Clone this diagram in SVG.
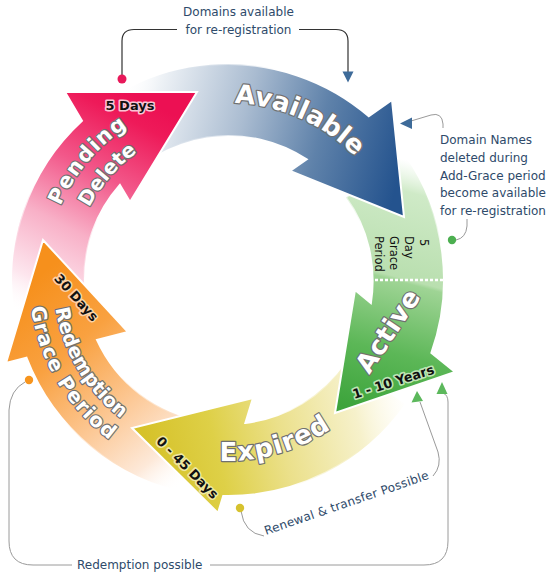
<svg xmlns="http://www.w3.org/2000/svg" xmlns:xlink="http://www.w3.org/1999/xlink" width="560" height="578" viewBox="0 0 560 578">
<style>
.lbl{font-family:"DejaVu Sans",Verdana,sans-serif;font-weight:bold;fill:#fff;stroke:#707070;stroke-width:2.4px;paint-order:stroke fill;stroke-linejoin:round}
.days{font-family:"DejaVu Sans",Verdana,sans-serif;font-weight:bold;font-size:13px;fill:#111;stroke-width:3.2px;paint-order:stroke fill;stroke-linejoin:round}
.note{font-family:"DejaVu Sans",Verdana,sans-serif;font-size:12px;fill:#2e4a6a}
.grace{font-family:"DejaVu Sans",Verdana,sans-serif;font-size:11.5px;fill:#111}
.ln{fill:none;stroke:#9a9a9a;stroke-width:1}
.lnd{fill:none;stroke:#333;stroke-width:1.2}
.arw{stroke-width:2;stroke-linejoin:miter}
</style>
<defs>
<linearGradient id="gPend" gradientUnits="userSpaceOnUse" x1="22" y1="315" x2="135" y2="95">
<stop offset="0" stop-color="#fff" stop-opacity="0"/><stop offset="0.15" stop-color="#fde6ee"/><stop offset="0.4" stop-color="#f8b0c7"/><stop offset="0.65" stop-color="#f2588a"/><stop offset="0.9" stop-color="#ee1a59"/><stop offset="1" stop-color="#ec1053"/>
</linearGradient>
<linearGradient id="gAvail" gradientUnits="userSpaceOnUse" x1="115" y1="120" x2="395" y2="190">
<stop offset="0" stop-color="#fff" stop-opacity="0"/><stop offset="0.12" stop-color="#eef2f6"/><stop offset="0.43" stop-color="#aabcd1"/><stop offset="0.7" stop-color="#5f82aa"/><stop offset="1" stop-color="#24538e"/>
</linearGradient>
<linearGradient id="gAct" gradientUnits="userSpaceOnUse" x1="425" y1="165" x2="360" y2="410">
<stop offset="0" stop-color="#dff2da" stop-opacity="0"/><stop offset="0.12" stop-color="#cfeac7"/><stop offset="0.455" stop-color="#b9dfaf"/><stop offset="0.47" stop-color="#9fd495"/><stop offset="0.75" stop-color="#5cb757"/><stop offset="1" stop-color="#3da43c"/>
</linearGradient>
<linearGradient id="gExp" gradientUnits="userSpaceOnUse" x1="405" y1="395" x2="150" y2="455">
<stop offset="0" stop-color="#fdf9e3" stop-opacity="0"/><stop offset="0.2" stop-color="#f6f1cb"/><stop offset="0.5" stop-color="#ebe08a"/><stop offset="0.75" stop-color="#ded047"/><stop offset="1" stop-color="#d6c22a"/>
</linearGradient>
<linearGradient id="gRed" gradientUnits="userSpaceOnUse" x1="200" y1="470" x2="40" y2="275">
<stop offset="0" stop-color="#fff" stop-opacity="0"/><stop offset="0.15" stop-color="#fde9d9"/><stop offset="0.4" stop-color="#fcc793"/><stop offset="0.7" stop-color="#f9a140"/><stop offset="1" stop-color="#f6901c"/>
</linearGradient>
<linearGradient id="wPend" href="#gPend" xlink:href="#gPend"><stop offset="0.2" stop-color="#fff" stop-opacity="0"/><stop offset="0.5" stop-color="#fff"/></linearGradient>
<linearGradient id="wAvail" href="#gAvail" xlink:href="#gAvail"><stop offset="0.2" stop-color="#fff" stop-opacity="0"/><stop offset="0.5" stop-color="#fff"/></linearGradient>
<linearGradient id="wAct" href="#gAct" xlink:href="#gAct"><stop offset="0.1" stop-color="#fff" stop-opacity="0"/><stop offset="0.3" stop-color="#fff"/></linearGradient>
<linearGradient id="wExp" href="#gExp" xlink:href="#gExp"><stop offset="0.2" stop-color="#fff" stop-opacity="0"/><stop offset="0.5" stop-color="#fff"/></linearGradient>
<linearGradient id="wRed" href="#gRed" xlink:href="#gRed"><stop offset="0.2" stop-color="#fff" stop-opacity="0"/><stop offset="0.5" stop-color="#fff"/></linearGradient>
<path id="shPend" d="M15.3,317.5 A216,216 0 0 1 82,120.8 L65,92 L197,92 L130,202 L119.9,184.9 A144,144 0 0 0 86.2,305 Z"/>
<path id="shAvail" d="M62.5,141.2 A216,216 0 0 1 368.8,116.2 L392,100 L404,217 L290,171 L306.7,159.4 A144,144 0 0 0 117.7,187.4 Z"/>
<path id="shAct" d="M404.9,156.1 A216,216 0 0 1 431.4,352.8 L455,372 L335,413 L355,290 L370.9,303.1 A144,144 0 0 0 346,197.4 Z"/>
<path id="shExp" d="M404.9,403.9 A216,216 0 0 1 223.2,495.9 L218,513 L132,428 L253,398 L245.4,422.9 A144,144 0 0 0 346,362.6 Z"/>
<path id="shRed" d="M190.5,492.7 A216,216 0 0 1 26.5,357.8 L6,363 L43,240 L128,332 L97,339.9 A144,144 0 0 0 203,421.8 Z"/>
<clipPath id="clipPendHead"><rect x="0" y="40" width="240" height="190"/></clipPath>
<path id="tpAvail" d="M150.4,120.9 A177,177 0 0 1 398.1,231.2"/>
<path id="tpPending" d="M47.5,311.1 A183.5,183.5 0 0 1 228.6,96.5"/>
<path id="tpDelete" d="M73.4,304.2 A156.5,156.5 0 0 1 231,123.5"/>
<path id="tpRedemption" d="M62.6,222.8 A175,175 0 0 0 199.8,452.8"/>
<path id="tpGrace" d="M40.3,214.1 A199,199 0 0 0 195.7,476.4"/>
<path id="tpExpired" d="M126.8,430 A181,181 0 0 0 393.3,353.6"/>
</defs>
<rect width="560" height="578" fill="#fff"/>

<g id="pending-delete">
<use href="#shPend" xlink:href="#shPend" class="arw" fill="url(#gPend)" stroke="url(#wPend)"/>
</g>
<g id="redemption-grace-period">
<use href="#shRed" xlink:href="#shRed" class="arw" fill="url(#gRed)" stroke="url(#wRed)"/>
</g>
<g id="expired">
<use href="#shExp" xlink:href="#shExp" class="arw" fill="url(#gExp)" stroke="url(#wExp)"/>
</g>
<g id="active">
<use href="#shAct" xlink:href="#shAct" class="arw" fill="url(#gAct)" stroke="url(#wAct)"/>
<line x1="370" y1="280" x2="446" y2="280" stroke="#fff" stroke-width="2.5" stroke-dasharray="3 2"/>
</g>
<g id="available">
<use href="#shAvail" xlink:href="#shAvail" class="arw" fill="url(#gAvail)" stroke="url(#wAvail)"/>
</g>
<g id="pending-delete-head">
<use href="#shPend" xlink:href="#shPend" class="arw" fill="url(#gPend)" stroke="url(#wPend)" clip-path="url(#clipPendHead)"/>
</g>

<g id="labels">
<text class="lbl" font-size="26"><textPath href="#tpAvail" xlink:href="#tpAvail" startOffset="50%" text-anchor="middle" textLength="135">Available</textPath></text>
<text class="lbl" font-size="21"><textPath href="#tpPending" xlink:href="#tpPending" startOffset="50%" text-anchor="middle" textLength="105">Pending</textPath></text>
<text class="lbl" font-size="20"><textPath href="#tpDelete" xlink:href="#tpDelete" startOffset="50%" text-anchor="middle">Delete</textPath></text>
<text class="lbl" font-size="19.5"><textPath href="#tpRedemption" xlink:href="#tpRedemption" startOffset="50%" text-anchor="middle" textLength="131">Redemption</textPath></text>
<text class="lbl" font-size="20"><textPath href="#tpGrace" xlink:href="#tpGrace" startOffset="50%" text-anchor="middle" textLength="158">Grace Period</textPath></text>
<text class="lbl" font-size="26"><textPath href="#tpExpired" xlink:href="#tpExpired" startOffset="50%" text-anchor="middle" textLength="118">Expired</textPath></text>
<text class="lbl" font-size="26" text-anchor="middle" textLength="94" transform="translate(395.3,335.9) rotate(-56.5)">Active</text>

<text class="days" x="130" y="110" text-anchor="middle" stroke="#f9c4d4">5 Days</text>
<text class="days" font-size="13.5" text-anchor="middle" stroke="#fcd2a6" transform="translate(73,300.6) rotate(48)">30 Days</text>
<text class="days" text-anchor="middle" stroke="#efe7a0" transform="translate(184.2,470.8) rotate(45)">0 - 45 Days</text>
<text class="days" text-anchor="middle" stroke="#bde5b4" textLength="85" transform="translate(394.7,386.2) rotate(-17.6)">1 - 10 Years</text>

<text class="grace" transform="translate(420,236) rotate(90)"><tspan x="3" y="0">5</tspan><tspan x="0" y="15">Day</tspan><tspan x="0" y="30">Grace</tspan><tspan x="0" y="45">Period</tspan></text>
</g>

<g id="connectors">
<path class="lnd" d="M122,78 L122,41 Q122,29.5 134,29.5 L177,29.5 M299,29.5 L336,29.5 Q348,29.5 348,41 L348,73"/>
<polygon points="342.5,71.5 353.5,71.5 348,82.5" fill="#3e6b99"/>
<circle cx="122" cy="79" r="4.5" fill="#e8195a"/>

<path class="ln" d="M411,121 L431,115 Q442,112 443,124 L443,128"/>
<polygon points="400,123.5 412,117.5 412,129" fill="#3e6b99"/>
<path class="ln" d="M456,240 Q466,238 467,226 L467,219"/>
<circle cx="452" cy="240" r="4.2" fill="#4caf50"/>

<path class="ln" d="M241,511 Q244,533 264,536"/>
<path class="ln" d="M433,476 Q442,466 438,452 L420,402"/>
<polygon points="417,391 411.5,402.5 423,401" fill="#5cb85c"/>
<circle cx="240" cy="508" r="4.2" fill="#d6c22e"/>

<path class="ln" d="M25,382 Q10,390 9,410 L9,541 Q9,565 33,565 L72,565 M210,565 L424,565 Q448,565 448,541 L448,402 Q448,395 443,393"/>
<polygon points="442,382 436.5,394 447.5,394" fill="#5cb85c"/>
<circle cx="29" cy="380" r="4.2" fill="#f7941d"/>
</g>

<g id="notes">
<text class="note" x="238.5" y="16" text-anchor="middle">Domains available</text>
<text class="note" x="238.5" y="33.5" text-anchor="middle">for re-registration</text>
<text class="note" x="440" y="144">Domain Names</text>
<text class="note" x="440" y="161.8">deleted during</text>
<text class="note" x="440" y="179.6">Add-Grace period</text>
<text class="note" x="440" y="197.4">become available</text>
<text class="note" x="440" y="215.2">for re-registration</text>
<text class="note" textLength="173" transform="translate(266,535) rotate(-19)">Renewal &amp; transfer Possible</text>
<text class="note" x="77" y="569">Redemption possible</text>
</g>
</svg>
